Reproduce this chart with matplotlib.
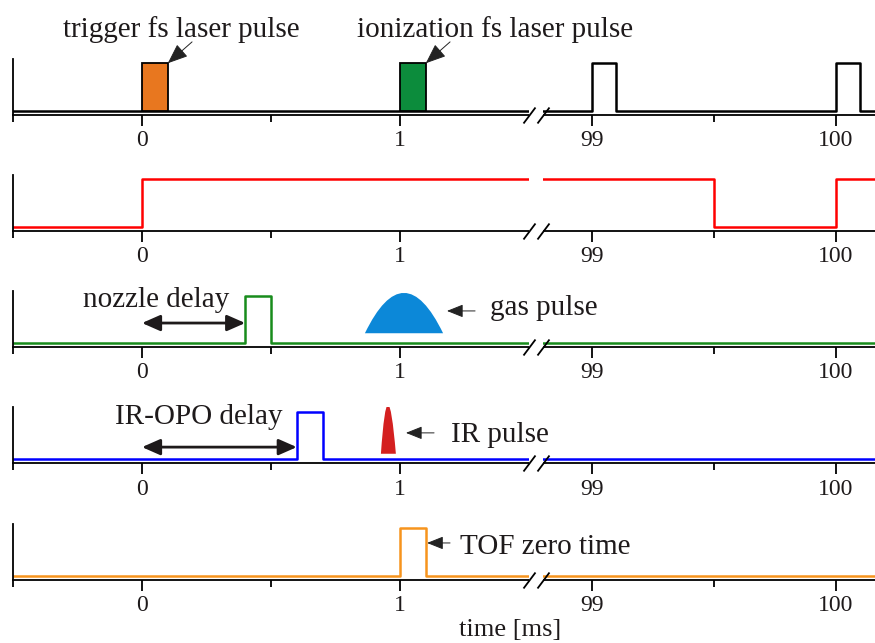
import numpy as np
import matplotlib
matplotlib.use("Agg")
import matplotlib.pyplot as plt
from matplotlib.path import Path
from matplotlib.patches import PathPatch, Rectangle

plt.rcParams["font.family"] = ["Liberation Serif", "DejaVu Serif"]

# ---------------------------------------------------------------- data (ms)
tick_pos = [0, 1, 99, 100]
tick_labels = ["0", "1", "99", "100"]
minor_pos = [-0.5, 0.5, 99.5]

t_start, t_end = -0.5, 100.16
break_lo, break_hi = 1.5, 98.8

trigger_pulse = (0.0, 0.1)
ionization_pulse = (1.0, 1.1)
repetition_pulses = [(99.0, 99.1), (100.0, 100.1)]

gate_edges_t = [t_start, 0.0, 0.0, 99.5, 99.5, 100.0, 100.0, t_end]
gate_edges_v = [0, 0, 1, 1, 0, 0, 1, 1]

nozzle_pulse = (0.4, 0.5)
gas_pulse = (0.864, 1.167)          # start, end
gas_level = (0.21, 1.06)            # bottom, peak

ir_opo_pulse = (0.6, 0.7)
ir_pulse = (0.926, 0.984, 0.952)    # start, end, peak position
ir_level = (0.12, 1.15)

tof_pulse = (1.0, 1.1)

# ------------------------------------------------------- broken time scale
T_KNOTS = np.array([-1000.0, t_start, break_lo, break_hi, t_end, 1000.0])
S_KNOTS = np.array([13 - 258 * 999.5, 13, 529, 543, 875, 875 + 244 * (1000 - t_end)])


def fwd(t):
    return np.interp(np.asarray(t, dtype=float), T_KNOTS, S_KNOTS)


def inv(s):
    return np.interp(np.asarray(s, dtype=float), S_KNOTS, T_KNOTS)


def pulse_train(pulses):
    t, v = [t_start], [0]
    for a, b in pulses:
        t += [a, a, b, b]
        v += [0, 1, 1, 0]
    t.append(t_end)
    v.append(0)
    return t, v


TXT = "#1e1a1b"
FS = 21

fig = plt.figure(figsize=(8.75, 6.43), dpi=100)
W, H = 875.0, 643.0
axes = []
for i in range(5):
    axis_px = 114.5 + 116.25 * i
    ax = fig.add_axes([13 / W, 1 - axis_px / H, 862 / W, 56 / H])
    ax.set_xscale("function", functions=(fwd, inv))
    ax.set_xlim(t_start, t_end)
    ax.set_ylim(-0.08, 1.1)
    for s in ("top", "right"):
        ax.spines[s].set_visible(False)
    ax.spines["left"].set_linewidth(1.3)
    ax.spines["bottom"].set_linewidth(1.3)
    ax.set_xticks(tick_pos, tick_labels)
    ax.set_xticks(minor_pos, minor=True)
    ax.set_yticks([])
    ax.tick_params(axis="x", which="major", direction="out", length=8,
                   width=1.3, labelsize=17, pad=3, labelcolor=TXT)
    ax.tick_params(axis="x", which="minor", direction="out", length=5, width=1.3)
    ax.patch.set_alpha(0)
    # axis break: blank gap plus two slashes
    ax.add_patch(Rectangle((break_lo, -0.3), break_hi - break_lo, 1.6,
                           facecolor="white", edgecolor="none", zorder=3,
                           clip_on=False))
    ax.plot([break_lo, break_hi], [-0.08, -0.08], ls="none",
            marker=[(-0.75, -1.0), (0.75, 1.0)], ms=11.5, mew=1.3,
            color="black", clip_on=False, zorder=5)
    axes.append(ax)

LW = 1.8


def arrow(ax, tip, tail, scale=20):
    ax.annotate("", xy=tip, xytext=tail, annotation_clip=False,
                arrowprops=dict(arrowstyle="-|>,head_length=0.5,head_width=0.2",
                                color="#222222", lw=0.7, shrinkA=0, shrinkB=0,
                                mutation_scale=scale))


def span_arrow(ax, t0, t1, y):
    ax.annotate("", xy=(t1, y), xytext=(t0, y), annotation_clip=False,
                arrowprops=dict(arrowstyle="<|-|>,head_length=0.5,head_width=0.22",
                                color=TXT, lw=2.0, shrinkA=0, shrinkB=0,
                                mutation_scale=22))


def bell(ax, t0, t1, tpk, bottom, peak, color):
    ctrl = bottom + 2 * (peak - bottom)
    verts = [(t0, bottom), (tpk, ctrl), (t1, bottom), (t0, bottom)]
    codes = [Path.MOVETO, Path.CURVE3, Path.CURVE3, Path.CLOSEPOLY]
    ax.add_patch(PathPatch(Path(verts, codes), facecolor=color,
                           edgecolor="none", zorder=2))


# row 1: laser pulses
ax = axes[0]
t, v = pulse_train(repetition_pulses)
ax.plot(t, v, color="black", lw=LW, zorder=2)
for (a, b), c in ((trigger_pulse, "#e8771f"), (ionization_pulse, "#0c8c3c")):
    ax.add_patch(Rectangle((a, 0), b - a, 1, facecolor=c, edgecolor="black",
                           lw=1.3, zorder=2.2))
ax.text(-0.306, 1.55, "trigger fs laser pulse", fontsize=FS, color=TXT,
        ha="left", va="baseline")
ax.text(0.833, 1.55, "ionization fs laser pulse", fontsize=FS, color=TXT,
        ha="left", va="baseline")
arrow(ax, (trigger_pulse[1], 1.0), (0.194, 1.45), scale=25)
arrow(ax, (ionization_pulse[1], 1.0), (1.194, 1.45), scale=25)

# row 2: gate signal
ax = axes[1]
ax.plot(gate_edges_t, gate_edges_v, color="#ff0000", lw=LW, zorder=2)

# row 3: nozzle trigger and gas pulse
ax = axes[2]
t, v = pulse_train([nozzle_pulse])
ax.plot(t, v, color="#188c1c", lw=LW, zorder=2)
bell(ax, gas_pulse[0], gas_pulse[1], 0.5 * (gas_pulse[0] + gas_pulse[1]),
     gas_level[0], gas_level[1], "#0c88d8")
span_arrow(ax, 0.0, nozzle_pulse[0], 0.425)
ax.text(-0.229, 0.77, "nozzle delay", fontsize=FS, color=TXT,
        ha="left", va="baseline")
arrow(ax, (1.182, 0.68), (1.291, 0.68))
ax.text(1.349, 0.59, "gas pulse", fontsize=FS, color=TXT,
        ha="left", va="baseline")

# row 4: IR-OPO trigger and IR pulse
ax = axes[3]
t, v = pulse_train([ir_opo_pulse])
ax.plot(t, v, color="#0000ff", lw=LW, zorder=2)
bell(ax, ir_pulse[0], ir_pulse[1], ir_pulse[2], ir_level[0], ir_level[1],
     "#d42020")
span_arrow(ax, 0.0, ir_opo_pulse[0], 0.26)
ax.text(-0.105, 0.75, "IR-OPO delay", fontsize=FS, color=TXT,
        ha="left", va="baseline")
arrow(ax, (1.023, 0.56), (1.132, 0.56))
ax.text(1.198, 0.37, "IR pulse", fontsize=FS, color=TXT,
        ha="left", va="baseline")

# row 5: TOF start
ax = axes[4]
t, v = pulse_train([tof_pulse])
ax.plot(t, v, color="#f7941d", lw=LW, zorder=2)
arrow(ax, (1.105, 0.69), (1.194, 0.69))
ax.text(1.233, 0.46, "TOF zero time", fontsize=FS, color=TXT,
        ha="left", va="baseline")

fig.text(510 / W, 1 - 636 / H, "time [ms]", fontsize=19, color=TXT,
         ha="center", va="baseline")

fig.savefig("out.png", dpi=100, facecolor="white")
